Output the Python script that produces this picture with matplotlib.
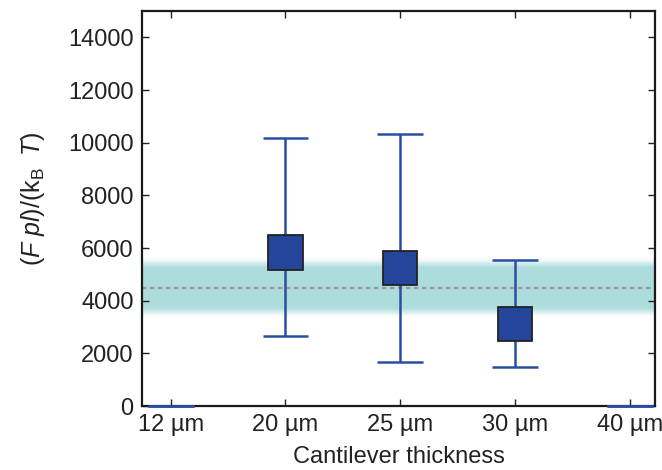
import numpy as np
import matplotlib
matplotlib.use("Agg")
import matplotlib.pyplot as plt

plt.rcParams['font.family'] = ['Liberation Sans', 'DejaVu Sans']
plt.rcParams['mathtext.fontset'] = 'custom'
plt.rcParams['mathtext.rm'] = 'Liberation Sans'
plt.rcParams['mathtext.it'] = 'Liberation Sans:italic'

# data
categories = ['12 µm', '20 µm', '25 µm', '30 µm', '40 µm']
box_lo = [0, 5180, 4590, 2470, 0]
box_hi = [0, 6490, 5890, 3770, 0]
whisk_lo = [0, 2660, 1680, 1480, 0]
whisk_hi = [0, 10180, 10320, 5540, 0]
ref_value = 4470      # dashed reference line
ref_core = 700        # half-width of the solid part of the band
ref_fade = 1140       # half-width where the band has faded out
yticks = [0, 2000, 4000, 6000, 8000, 10000, 12000, 14000]

box_color = '#23469b'
line_color = '#2a4ea2'
band_rgb = (0.68, 0.865, 0.865)

fig = plt.figure(figsize=(6.62, 4.70), dpi=100)
ax = fig.add_axes([0.2145, 0.136, 0.775, 0.8405])

x = np.arange(len(categories))
xlim = (-0.25, 4.22)

# shaded band with soft edges
ys = np.linspace(ref_value - ref_fade, ref_value + ref_fade, 300)
d = np.abs(ys - ref_value)
t = np.clip((ref_fade - d) / (ref_fade - ref_core), 0, 1)
alpha = t * t * (3 - 2 * t)
img = np.zeros((len(ys), 2, 4))
img[..., :3] = band_rgb
img[..., 3] = alpha[:, None]
ax.imshow(img, extent=(xlim[0], xlim[1], ys[0], ys[-1]), origin='lower',
          aspect='auto', interpolation='bilinear', zorder=0)
ax.axhline(ref_value, color='#999999', lw=1.6, ls=(0, (2, 1.6)), zorder=1)

# whiskers and caps
ax.vlines(x, whisk_lo, whisk_hi, color=line_color, lw=1.8, zorder=2)
ax.hlines(whisk_lo, x - 0.2, x + 0.2, color=line_color, lw=1.8, zorder=5,
          clip_on=False)
ax.hlines(whisk_hi, x - 0.2, x + 0.2, color=line_color, lw=1.8, zorder=5,
          clip_on=False)

# boxes
heights = np.array(box_hi) - np.array(box_lo)
has_box = heights > 0
ax.bar(x[has_box], heights[has_box], bottom=np.array(box_lo)[has_box], width=0.3,
       color=box_color, edgecolor='#222222', linewidth=1.3, zorder=3)

ax.set_xlim(*xlim)
ax.set_ylim(0, 15000)
ax.set_xticks(x)
ax.set_xticklabels(categories)
ax.set_yticks(yticks)
ax.tick_params(direction='in', top=True, right=True, length=5, width=1,
               labelsize=17, colors='#222222', pad=6)
for s in ax.spines.values():
    s.set_linewidth(1.6)
    s.set_color('#1a1a1a')

ax.set_xlabel('Cantilever thickness', fontsize=17, color='#222222', labelpad=7)
ax.set_ylabel(r'$(F\ pl)/(\mathrm{k}_\mathrm{B}\;\;T)$', fontsize=18,
              color='#222222', labelpad=15)
ax.yaxis.label.set_y(0.525)

fig.savefig('out.png', dpi=100)
